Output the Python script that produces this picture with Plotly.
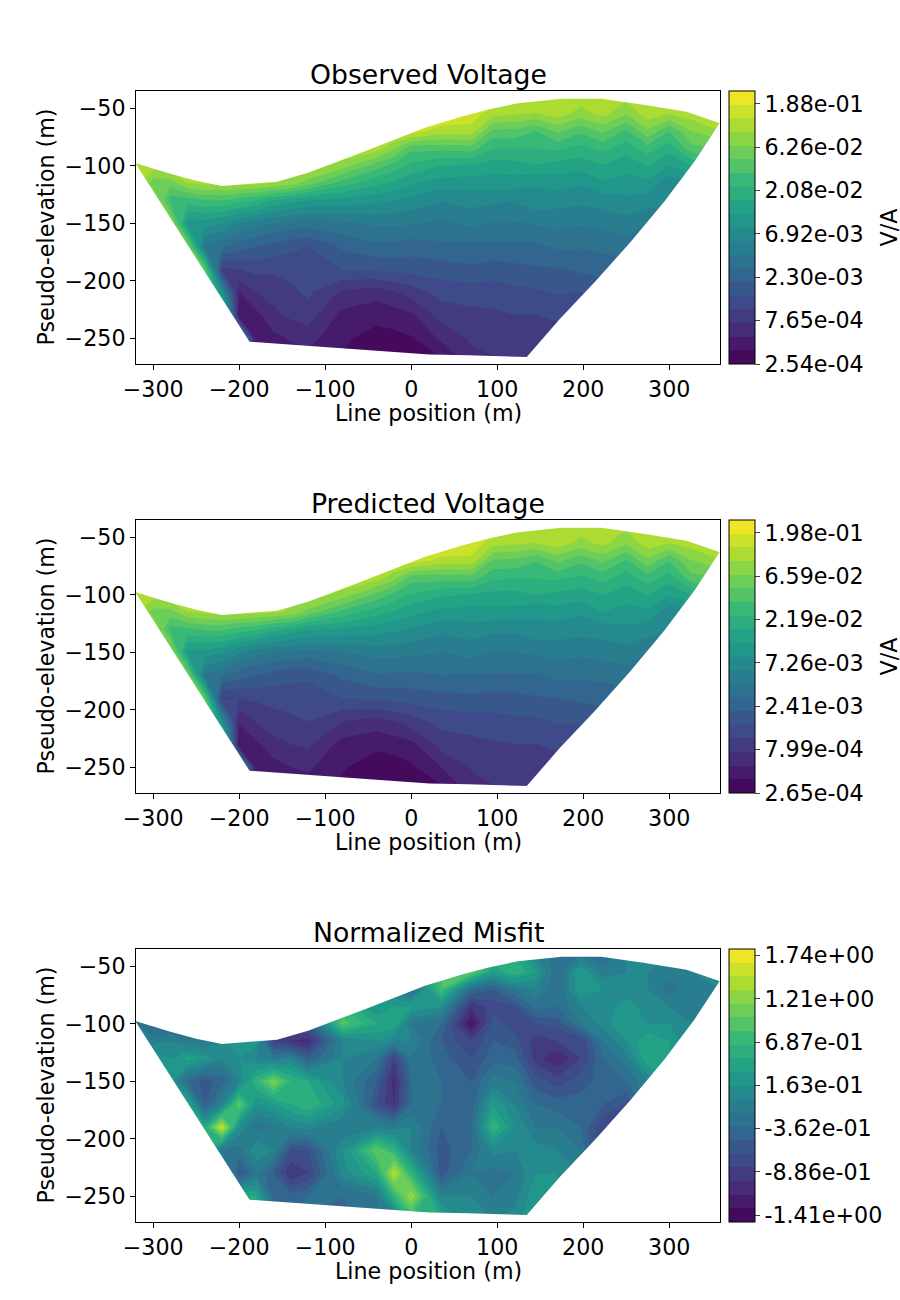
import numpy as np
import plotly.graph_objects as go
from plotly.colors import sequential

W, H = 900, 1300
FONT = "DejaVu Sans"
line_x = [-320,-300,-280,-260,-240,-220,-200,-180,-160,-140,-120,-80,-40,-20,0,35,70,95,120,145,170,197,223,250,275,300,326,360]
elev_y = [-40,-55,-70,-85,-100,-115,-130,-150,-170,-190,-210,-230,-250,-270]

top_x = [-321,-280,-250,-220,-156,-120,-56,-6,16,60,90,124,175,221,270,320,359]
top_y = [-97.6,-107,-113,-117.6,-113.8,-106,-88,-73,-67,-57,-51,-45.7,-41.8,-41.8,-47,-53,-63]
bot_x = [-321,-188,21,66,134.3,172.7,213.4,254,294.8,329.7,358.7]
bot_y = [-97.6,-253,-264,-264.6,-266.3,-233.2,-201,-167.1,-130.6,-95.8,-62.8]

# columns of colour-band readings (one list per line_x, from top row to bottom row)
obs_bands = [
[17.5]*14,
[17.5,17.5,17.5,17.5,17.5,15.5,17.5,17.5,17.5,17.5,17.5,17.5,17.5,17.5],
[17.5,17.5,17.5,17.5,18,15.5,13.5,17,17,17,17,17,17,17],
[17.5,17.5,17.5,17.5,17.5,17,13.5,10.5,16,17,17,17,17,17],
[17.5,17.5,17.5,17.5,17.5,17.3,14,10.5,7.8,15,17,17,17,17],
[17.5,17.5,17.5,17.5,17.5,17.5,14,10,7.2,3.8,10,17,17,17],
[17.5,17.5,17.5,17.5,17.5,17.5,13.5,9,6.5,4,2,1,12,12],
[17.5,17.5,17.5,17.5,17.5,17.3,13,8.5,6,4.3,3,1.7,1.2,1],
[17.5,17.5,17.5,17.5,17.5,17,12,8,5.7,4.2,3.3,2.8,1.7,1.3],
[17.5,17.5,17.5,17.5,17.5,16.6,11.5,7.7,5.3,4.3,3.8,3.2,2.1,1.4],
[17.5,17.5,17.5,17.5,17.7,15.5,11,7.5,5,4.4,4.2,3.5,2.4,1.5],
[17.5,17.5,17.5,18,16.5,13.5,10.7,7.8,6.2,5,2.8,1.7,1.2,0.8],
[18,18,18,17.5,14.5,12.3,10.3,8.2,6.8,5.2,2.4,1.3,0.6,0.05],
[18.2,18.2,18.2,16.2,13.6,11.8,10,8.2,6.7,5.3,2.9,1.5,0.7,0.1],
[18.5,18.5,18.5,14.3,12.7,11.2,9.7,8.1,6.5,5.4,3.4,1.8,0.9,0.2],
[19,19,17.5,14.3,12,10.5,9.1,7.8,6.8,5.5,4.4,3.4,2.2,0.8],
[19,18.6,17.6,14.5,11.8,10.5,9.4,8.25,6.75,5.8,4.5,3.7,3.2,2.5],
[18.8,17.3,14.7,13,11.5,10.5,9.2,7.9,6.8,5.5,4.5,3.8,3.3,2.9],
[18,17.1,14.7,13,11.6,10.5,9.1,7.9,6.8,5.7,4.7,4,3.4,3],
[18,16.9,14,13,11.9,10.1,9.7,8.1,6.8,5.9,4.8,4,3.4,3],
[17.8,17.5,15.2,13.2,11.6,10.5,9.4,8.3,7.2,5.9,5.1,4.2,3.5,3.2],
[17.5,16.6,14.2,12.7,11.4,10.1,9.3,8.1,7.1,6.2,5,4.4,3.8,3.5],
[17.5,17.3,15.2,13.3,11.9,10.9,9.4,8.3,7.3,6.3,5.5,4.6,4,3.6],
[17.3,16.1,13.8,12.4,11.4,10.5,9.8,8.6,7.5,6.5,5.5,5,4.3,4],
[17.5,17.6,15.8,13.5,12,10.7,9.5,8,7,6.5,6,5.3,4.7,4.3],
[17.5,17,14,12.4,11,9.3,9.2,8.4,7.5,6.5,6,5.5,5,4.5],
[17.5,17.5,16,14.7,12,10,9.5,9,8,7,6.5,6,5,4.5],
[17.5,17.5,17,15,13,12,11,10,9,8,7,6,5,4.5],
]
pred_bands = [
[17.5]*14,
[17.5,17.5,17.5,17.5,17.5,15.6,17.5,17.5,17.5,17.5,17.5,17.5,17.5,17.5],
[17.5,17.5,17.5,17.5,18,15.6,13.6,17,17,17,17,17,17,17],
[17.5,17.5,17.5,17.5,17.5,17,13.8,10.6,16,17,17,17,17,17],
[17.5,17.5,17.5,17.5,17.5,17.3,14.2,10.6,7.9,15,17,17,17,17],
[17.5,17.5,17.5,17.5,17.5,17.5,14.2,10.1,7.2,3.9,10,17,17,17],
[17.5,17.5,17.5,17.5,17.5,17.5,13.6,9.2,6.4,4,2.2,0.9,12,12],
[17.5,17.5,17.5,17.5,17.5,17.4,13.2,8.4,6,4.2,3.1,1.8,1.1,0.9],
[17.5,17.5,17.5,17.5,17.5,17.2,12.4,8,5.6,4.3,3.6,2.6,1.6,1.2],
[17.5,17.5,17.5,17.5,17.5,16.8,11.8,7.8,5.3,4.4,3.8,3,2,1.3],
[17.5,17.5,17.5,17.5,17.7,15.6,11.2,7.7,5.2,4.5,4,3.2,2.2,1.3],
[17.5,17.5,17.5,18,16.6,13.7,10.9,8,6.2,5,3,1.6,1.1,0.7],
[18,18,18,17.6,14.7,12.4,10.5,8.4,6.9,5.2,2.6,1.2,0.5,0.05],
[18.3,18.3,18.3,16.4,13.7,11.9,10.2,8.4,6.8,5.3,3,1.4,0.6,0.1],
[18.6,18.6,18.6,14.5,12.9,11.3,9.9,8.3,6.7,5.5,3.5,1.7,0.8,0.2],
[19.2,19.2,17.7,14.5,12.2,10.7,9.3,8,7,5.6,4.4,3.4,2,0.7],
[19.3,18.8,17.7,14.6,11.9,10.6,9.5,8.4,6.9,5.8,4.5,3.7,3.1,2.4],
[18.8,17.4,14.9,13.2,11.7,10.7,9.3,8,6.9,5.6,4.6,3.9,3.3,2.9],
[18,17.2,14.8,13.1,11.7,10.6,9.2,8,6.9,5.7,4.8,4,3.4,3],
[18,17,14.1,13.1,12,10.2,9.7,8.2,6.9,5.9,4.8,4,3.4,3],
[17.8,17.6,15.3,13.3,11.7,10.6,9.5,8.4,7.3,6,5.1,4.2,3.5,3.2],
[17.5,16.7,14.3,12.8,11.5,10.2,9.4,8.2,7.2,6.2,5.1,4.4,3.8,3.5],
[17.5,17.3,15.3,13.4,12,11,9.5,8.4,7.3,6.3,5.5,4.6,4,3.6],
[17.3,16.2,13.9,12.5,11.5,10.6,9.8,8.6,7.5,6.5,5.5,5,4.3,4],
[17.5,17.6,15.8,13.6,12,10.8,9.5,8,7,6.5,6,5.3,4.7,4.3],
[17.5,17,14.1,12.5,11.1,9.3,9.2,8.4,7.5,6.5,6,5.5,5,4.5],
[17.5,17.5,16,14.7,12,10,9.5,9,8,7,6.5,6,5,4.5],
[17.5,17.5,17,15,13,12,11,10,9,8,7,6,5,4.5],
]
misfit_bands = [
[8,8,8,8,8,8,9,10,10,10,10,10,10,10],
[7,7,7,7,6.5,8.5,11,12,12,12,12,12,12,12],
[7,7,7,7,6.5,9,10,10.5,12,12,12,12,12,12],
[7,7,7,7,7,8,11.5,7,12,12,12,12,12,12],
[8,8,8,8,8,8,10.5,5.5,6,12,12,12,12,12],
[9,9,9,9,9,9.5,9,6.5,9,18.5,8,12,12,12],
[10,10,10,10,10,11,10,9,15,10,7.5,5.5,12,12],
[8,8,8,8,9,10.5,9,13,10,7.5,10,8,12,12],
[5,5,5,5,5,4,8,16,11,8,9,6,6.5,7],
[5,5,5,5,5,3,9,13,12,9,5,3,6.5,7],
[6,6,6,6,6,2.5,6,12,13,9.5,5,4,7,7],
[13,13,13,13,14.5,9,9,9,10.5,8,10,9.5,7,6.5],
[10,10,10,10,12,10,8,6,5,9,15,12,8,8],
[9,9,9,11,12,9,4,2.5,3,8.5,13,18,13,8],
[7,7,7,11,8,9,8,7,7,9,9,13,17,13],
[14,14,14,10,7,6,6.5,7,7,6,5.5,5.5,9,12],
[14,15,7,3,1,4,5,6,6.5,7,7,8,9,9],
[13,11,6,4.5,5.5,6,6.5,8.5,11,13,9.5,7.5,8,9],
[12,13,8,5,4.5,5.5,6.5,8,9,10,9,8,8.5,9.5],
[9,11,9,7.5,5,3.5,3.5,5.5,7,8,9.5,10,11,11],
[7,7,7,7,5.5,4,2,4.5,6.5,8,9,10,10,10],
[8,11,11,9,8,4,4,5.5,6.5,7,8,9,9,9],
[7,8.5,10,9.5,9.5,8,7,6.5,6,4,3.5,4,5,5],
[9,9,9.5,10.5,11,10,8.5,7,5,4.5,5,5,5,5],
[9,9,9,9.5,10,12,12,9,8,8,8,8,8,8],
[9,8.5,7.5,9,10,11,11,11,11,11,11,11,11,11],
[9,9,8.5,8.5,9,9,9,9,9,9,9,9,9,9],
[9,9,9,9,9,9,9,9,9,9,9,9,9,9],
]

obs_ticks = ["2.54e-04","7.65e-04","2.30e-03","6.92e-03","2.08e-02","6.26e-02","1.88e-01"]
pred_ticks = ["2.65e-04","7.99e-04","2.41e-03","7.26e-03","2.19e-02","6.59e-02","1.98e-01"]
misfit_ticks = ["-1.41e+00","-8.86e-01","-3.62e-01","1.63e-01","6.87e-01","1.21e+00","1.74e+00"]
titles = ["Observed Voltage", "Predicted Voltage", "Normalized Misfit"]
units = ["V/A", "V/A", ""]

BANDS_SPANNED = 19.05
fig = go.Figure()
TOPS = [91, 520, 949]
PH = 273
X0, X1 = 136, 720
TF = 22.2

def band_layout(ticks, log, shift):
    v = [float(t) for t in ticks]
    if log:
        v = list(np.log10(v))
    step = (v[-1]-v[0])/BANDS_SPANNED
    return v, v[0]-shift*step, step

panels = [(obs_bands, obs_ticks, True, 0.0), (pred_bands, pred_ticks, True, 0.0), (misfit_bands, misfit_ticks, False, 0.5)]
for i, (bands, ticks, log, shift) in enumerate(panels):
    n = "" if i == 0 else str(i+1)
    tv, start, step = band_layout(ticks, log, shift)
    z = start + np.array(bands).T*step
    top = TOPS[i]
    ydom = [1-(top+PH)/H, 1-top/H]
    fig.add_trace(go.Contour(
        x=line_x, y=elev_y, z=z, xaxis="x"+n, yaxis="y"+n,
        colorscale=sequential.Viridis, zmin=start, zmax=start+20*step,
        autocontour=False, contours=dict(start=start, end=start+20*step, size=step, coloring="fill", showlines=False),
        line=dict(width=0, smoothing=0), hoverinfo="skip",
        colorbar=dict(x=729/W, xanchor="left", xpad=0, ypad=0, thickness=26, thicknessmode="pixels",
                      len=PH/H, lenmode="fraction", y=sum(ydom)/2, yanchor="middle",
                      tickmode="array", tickvals=tv, ticktext=ticks, ticks="outside", ticklen=5, tickwidth=1,
                      outlinewidth=1, outlinecolor="black", tickfont=dict(size=TF, family=FONT, color="black"))))
    # white masks outside the sounding region
    fig.add_trace(go.Scatter(x=top_x+[370,370,-330,-330], y=top_y+[-63,-20,-20,-97.6], xaxis="x"+n, yaxis="y"+n,
                             mode="lines", fill="toself", fillcolor="white", line=dict(width=0), hoverinfo="skip", showlegend=False))
    fig.add_trace(go.Scatter(x=bot_x+[370,370,-330,-330], y=bot_y+[-63,-290,-290,-97.6], xaxis="x"+n, yaxis="y"+n,
                             mode="lines", fill="toself", fillcolor="white", line=dict(width=0), hoverinfo="skip", showlegend=False))
    ax = dict(showgrid=False, zeroline=False, showline=True, mirror=True, linecolor="black", linewidth=1,
              ticks="outside", ticklen=5, tickwidth=1, tickcolor="black",
              tickfont=dict(size=TF, family=FONT, color="black"))
    fig.update_layout({
        "xaxis"+n: dict(ax, domain=[X0/W, X1/W], range=[-320, 359], tickvals=[-300,-200,-100,0,100,200,300],
                        anchor="y"+n, automargin=False),
        "yaxis"+n: dict(ax, domain=ydom, range=[-272.3, -35], tickvals=[-50,-100,-150,-200,-250],
                        anchor="x"+n, automargin=False),
    })
    tfont = dict(size=TF, family=FONT, color="black")
    # panel title, axis titles and unit label, placed in page pixels
    fig.add_annotation(text=titles[i], xref="paper", yref="paper", x=(X0+X1)/2/W, y=1-(top-17)/H,
                       xanchor="center", yanchor="middle", showarrow=False, font=dict(size=26.7, family=FONT, color="black"))
    fig.add_annotation(text="Line position (m)", xref="paper", yref="paper", x=(X0+X1)/2/W, y=1-(top+PH+49)/H,
                       xanchor="center", yanchor="middle", showarrow=False, font=tfont)
    fig.add_annotation(text="Pseudo-elevation (m)", xref="paper", yref="paper", x=45/W, y=sum(ydom)/2, textangle=-90,
                       xanchor="center", yanchor="middle", showarrow=False, font=tfont)
    if units[i]:
        fig.add_annotation(text=units[i], xref="paper", yref="paper", x=888/W, y=sum(ydom)/2, textangle=-90,
                           xanchor="center", yanchor="middle", showarrow=False, font=tfont)

fig.update_layout(width=W, height=H, margin=dict(l=0, r=0, t=0, b=0, autoexpand=False), plot_bgcolor="white", paper_bgcolor="white",
                  showlegend=False, font=dict(family=FONT))
fig.write_html("out.html", config={"displayModeBar": False},
               post_script="document.body.style.margin='0';document.documentElement.style.overflow='hidden';")
